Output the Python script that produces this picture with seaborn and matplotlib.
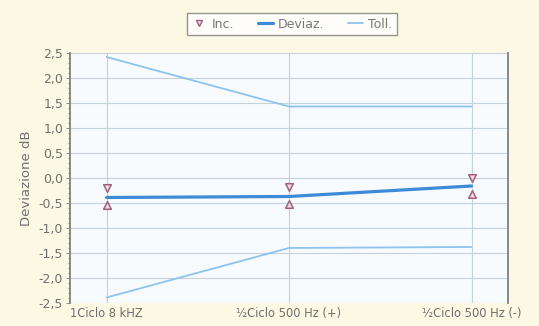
import matplotlib
matplotlib.use("Agg")
import matplotlib.pyplot as plt
from matplotlib.lines import Line2D
from matplotlib.ticker import FuncFormatter, MultipleLocator
import seaborn as sns
import pandas as pd

categories = ["1Ciclo 8 kHZ", "½Ciclo 500 Hz (+)", "½Ciclo 500 Hz (-)"]
deviaz = [-0.39, -0.37, -0.16]
inc_high = [-0.21, -0.19, -0.01]
inc_low = [-0.54, -0.52, -0.33]
toll_high = [2.42, 1.43, 1.43]
toll_low = [-2.39, -1.40, -1.38]

sns.set_theme(style="white")
plt.rcParams["font.family"] = ["DejaVu Sans"]

fig = plt.figure(figsize=(5.39, 3.26), dpi=100, facecolor="#fbf9e4")
ax = fig.add_axes([0.130, 0.0706, 0.8125, 0.7668])
ax.set_facecolor("#f7fbfe")

x = list(range(len(categories)))
df = pd.DataFrame({"x": x, "deviaz": deviaz, "inc_high": inc_high,
                   "inc_low": inc_low, "toll_high": toll_high,
                   "toll_low": toll_low})

dev_col = "#3d8bd8"
toll_col = "#8ec3ef"
mk_edge = "#a0607a"
mk_face = "#f3d9e4"

sns.lineplot(data=df, x="x", y="toll_high", ax=ax, color=toll_col, lw=1.3)
sns.lineplot(data=df, x="x", y="toll_low", ax=ax, color=toll_col, lw=1.3)
sns.lineplot(data=df, x="x", y="deviaz", ax=ax, color=dev_col, lw=2.3)
sns.scatterplot(data=df, x="x", y="inc_high", ax=ax, marker="v", s=30,
                color=mk_face, edgecolor=mk_edge, linewidth=1.1, zorder=5)
sns.scatterplot(data=df, x="x", y="inc_low", ax=ax, marker="^", s=30,
                color=mk_face, edgecolor=mk_edge, linewidth=1.1, zorder=5)

ax.set_xlim(-0.2, 2.2)
ax.set_ylim(-2.5, 2.5)
ax.yaxis.set_major_locator(MultipleLocator(0.5))
ax.yaxis.set_minor_locator(MultipleLocator(0.1))
ax.yaxis.set_major_formatter(FuncFormatter(lambda v, p: f"{v:.1f}".replace(".", ",")))
ax.set_xticks(x)
ax.set_xticklabels(categories)
ax.grid(True, color="#c6d2da", lw=0.8)
ax.set_axisbelow(True)

ax.tick_params(axis="both", colors="#6f6f6f", labelsize=9)
ax.tick_params(axis="y", which="both", left=True, length=3, width=0.6, color="#808080", pad=2)
ax.tick_params(axis="y", which="minor", length=1.5)
ax.tick_params(axis="x", length=0, pad=3, labelsize=8.3)
ax.set_xlabel("")
ax.set_ylabel("Deviazione dB", color="#6f6f6f", fontsize=9.5, labelpad=4)

for side in ["left", "right"]:
    ax.spines[side].set_visible(True)
    ax.spines[side].set_color("#808080")
    ax.spines[side].set_linewidth(1.3)
ax.spines["top"].set_visible(False)
ax.spines["bottom"].set_visible(False)

handles = [
    Line2D([], [], ls="none", marker="v", ms=5, mfc=mk_face, mec=mk_edge, mew=1.0),
    Line2D([], [], color=dev_col, lw=2.3),
    Line2D([], [], color=toll_col, lw=1.3),
]
leg = fig.legend(handles, ["Inc.", "Deviaz.", "Toll."], loc="center",
                 bbox_to_anchor=(0.542, 0.926), ncol=3, fontsize=9,
                 frameon=True, fancybox=False, handlelength=1.2,
                 handletextpad=0.4, columnspacing=1.9, borderpad=0.35)
leg.get_frame().set_edgecolor("#7a7a7a")
leg.get_frame().set_facecolor("white")
leg.get_frame().set_linewidth(1.0)
for t in leg.get_texts():
    t.set_color("#777777")

fig.savefig("out.png", dpi=100, facecolor=fig.get_facecolor())
